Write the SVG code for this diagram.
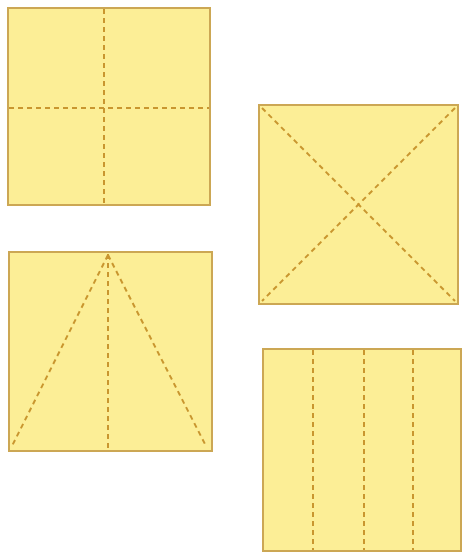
<svg xmlns="http://www.w3.org/2000/svg" width="462" height="552" viewBox="0 0 462 552">
<style>
.sq{fill:#fcee96;stroke:#cca754;stroke-width:2}
.fold{stroke:#c9962f;stroke-width:2;stroke-dasharray:5,4;fill:none}
</style>
<rect width="462" height="552" fill="#ffffff"/>
<g id="square-cross">
<rect class="sq" x="8" y="8" width="202" height="197"/>
<line class="fold" x1="104" y1="9" x2="104" y2="204"/>
<line class="fold" x1="9" y1="108" x2="209" y2="108"/>
</g>
<g id="square-diagonals">
<rect class="sq" x="259" y="105" width="199" height="199"/>
<line class="fold" x1="262" y1="108" x2="455" y2="301"/>
<line class="fold" x1="455" y1="108" x2="262" y2="301"/>
</g>
<g id="square-triangle">
<rect class="sq" x="9" y="252" width="203" height="199"/>
<line class="fold" x1="108" y1="254" x2="108" y2="450"/>
<line class="fold" x1="108" y1="255" x2="12" y2="446"/>
<line class="fold" x1="108" y1="255" x2="206" y2="446"/>
</g>
<g id="square-strips">
<rect class="sq" x="263" y="349" width="198" height="202"/>
<line class="fold" x1="313" y1="350" x2="313" y2="550"/>
<line class="fold" x1="364" y1="350" x2="364" y2="550"/>
<line class="fold" x1="413" y1="350" x2="413" y2="550"/>
</g>
<g id="connectors"></g>
</svg>
